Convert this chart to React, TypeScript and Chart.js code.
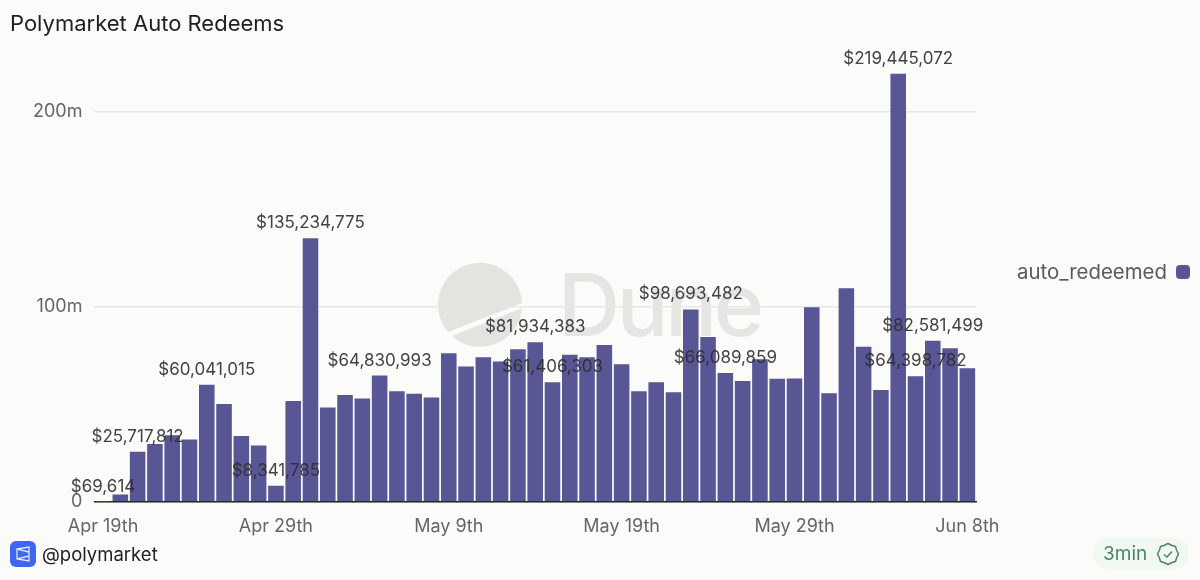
import React, { useEffect, useRef } from 'react';
import { Chart, registerables } from 'chart.js';

Chart.register(...registerables);

const TITLE = 'Polymarket Auto Redeems';
const SERIES_NAME = 'auto_redeemed';
const HANDLE = '@polymarket';
const FRESHNESS = '3min';

const dates = [
  'Apr 19th', 'Apr 20th', 'Apr 21st', 'Apr 22nd', 'Apr 23rd', 'Apr 24th', 'Apr 25th', 'Apr 26th', 'Apr 27th', 'Apr 28th',
  'Apr 29th', 'Apr 30th', 'May 1st', 'May 2nd', 'May 3rd', 'May 4th', 'May 5th', 'May 6th', 'May 7th', 'May 8th',
  'May 9th', 'May 10th', 'May 11th', 'May 12th', 'May 13th', 'May 14th', 'May 15th', 'May 16th', 'May 17th', 'May 18th',
  'May 19th', 'May 20th', 'May 21st', 'May 22nd', 'May 23rd', 'May 24th', 'May 25th', 'May 26th', 'May 27th', 'May 28th',
  'May 29th', 'May 30th', 'May 31st', 'Jun 1st', 'Jun 2nd', 'Jun 3rd', 'Jun 4th', 'Jun 5th', 'Jun 6th', 'Jun 7th',
  'Jun 8th',
];

const autoRedeemed = [
  69614, 3900000, 25717812, 29700000, 34200000, 32000000, 60041015, 50200000, 33800000, 28900000,
  8341785, 51800000, 135234775, 48400000, 54900000, 53000000, 64830993, 56700000, 55500000, 53500000,
  76200000, 69400000, 74200000, 72000000, 78300000, 81934383, 61406303, 75500000, 74200000, 80500000,
  70600000, 56700000, 61400000, 56200000, 98693482, 84600000, 66089859, 62000000, 73200000, 63200000,
  63300000, 99800000, 55700000, 109600000, 79600000, 57400000, 219445072, 64398782, 82581499, 78800000,
  68600000,
];

// bars that carry a value label in the original
const labelledBars = [0, 2, 6, 10, 12, 16, 25, 26, 34, 36, 46, 47, 48];

const yTicks = [0, 100000000, 200000000];
const yMax = 225000000;

const BAR_COLOR = '#585694';
const BG = '#fbfbf9';
const SANS = 'Inter, sans-serif';

const valueLabels = {
  id: 'valueLabels',
  afterDatasetsDraw(chart: Chart) {
    const { ctx } = chart;
    const meta = chart.getDatasetMeta(0);
    ctx.save();
    ctx.font = `17px ${SANS}`;
    ctx.fillStyle = 'rgba(45,45,45,0.9)';
    ctx.textAlign = 'center';
    ctx.textBaseline = 'alphabetic';
    labelledBars.forEach((i) => {
      const bar = meta.data[i];
      ctx.fillText('$' + autoRedeemed[i].toLocaleString('en-US'), bar.x, bar.y - 10);
    });
    ctx.restore();
  },
};

const App: React.FC = () => {
  const chartRef = useRef<HTMLCanvasElement>(null);

  useEffect(() => {
    if (!chartRef.current) return;
    const chart = new Chart(chartRef.current, {
      type: 'bar',
      data: {
        labels: dates,
        datasets: [
          {
            label: SERIES_NAME,
            data: autoRedeemed,
            backgroundColor: BAR_COLOR,
            categoryPercentage: 1,
            barPercentage: 0.9,
          },
        ],
      },
      options: {
        animation: false,
        responsive: false,
        layout: { padding: { top: 63, right: 224, left: 0, bottom: 0 } },
        plugins: {
          legend: { display: false },
          tooltip: { enabled: false },
        },
        scales: {
          x: {
            grid: { display: false },
            border: { color: '#1c1c1c', width: 1.5 },
            afterFit: (scale: any) => {
              scale.height = 78;
            },
            ticks: {
              autoSkip: false,
              maxRotation: 0,
              minRotation: 0,
              padding: 6,
              color: '#666666',
              font: { family: SANS, size: 18 },
              callback: (_v: any, i: number) => (i % 10 === 0 ? dates[i] : ''),
            },
          },
          y: {
            min: 0,
            max: yMax,
            afterFit: (scale: any) => {
              scale.width = 94.4;
            },
            afterBuildTicks: (scale: any) => {
              scale.ticks = yTicks.map((value) => ({ value }));
            },
            grid: { color: '#e7e7e4', lineWidth: 1.5, drawTicks: false },
            border: { display: false },
            ticks: {
              padding: 12,
              color: '#666666',
              font: { family: SANS, size: 18 },
              callback: (v: any) => (v === 0 ? '0' : `${v / 1000000}m`),
            },
          },
        },
      },
      plugins: [valueLabels],
    });
    return () => chart.destroy();
  }, []);

  return (
    <div style={{ position: 'absolute', left: 0, top: 0, width: 1200, height: 580, background: BG, overflow: 'hidden' }}>
      {/* watermark sits behind the transparent canvas */}
      <svg width={100} height={100} viewBox="0 0 100 100" style={{ position: 'absolute', left: 430, top: 255 }}>
        <path d="M18 77 A42 42 0 1 1 92 48 Z" fill="#e3e3e0" />
        <path d="M22 81 L92 53 A42 42 0 0 1 22 81 Z" fill="#e3e3e0" />
      </svg>
      <div
        style={{
          position: 'absolute',
          left: 558,
          top: 250,
          fontFamily: 'Inter, sans-serif',
          fontSize: 86,
          fontWeight: 500,
          letterSpacing: -3.3,
          lineHeight: '110px',
          color: '#e5e5e2',
        }}
      >
        Dune
      </div>

      <canvas ref={chartRef} width={1200} height={580} style={{ position: 'absolute', left: 0, top: 0 }} />

      <div style={{ position: 'absolute', left: 10, top: 9, fontFamily: 'Inter, sans-serif', fontSize: 22, lineHeight: '28px', color: '#1f1f1f' }}>
        {TITLE}
      </div>

      <div style={{ position: 'absolute', left: 1017, top: 258, fontFamily: 'Inter, sans-serif', fontSize: 20.4, lineHeight: '28px', color: '#5a5a5a' }}>
        {SERIES_NAME}
      </div>
      <div style={{ position: 'absolute', left: 1176, top: 265, width: 14, height: 14, borderRadius: 4, background: BAR_COLOR }} />

      <svg width={26} height={26} viewBox="0 0 26 26" style={{ position: 'absolute', left: 10, top: 541 }}>
        <rect width={26} height={26} rx={6} fill="#3f66f0" />
        <path d="M7 8 L19 6 L19 20 L7 18 Z M7 8 L19 11 L19 15 L7 18" fill="none" stroke="#dfe6ff" strokeWidth={1.3} />
      </svg>
      <div style={{ position: 'absolute', left: 42, top: 540, fontFamily: 'Inter, sans-serif', fontSize: 18.5, lineHeight: '28px', color: '#222222' }}>
        {HANDLE}
      </div>

      <div
        style={{
          position: 'absolute',
          left: 1093,
          top: 538,
          width: 96,
          height: 31,
          borderRadius: 15,
          background: '#f0f8f1',
        }}
      />
      <div style={{ position: 'absolute', left: 1103, top: 540, fontFamily: 'Inter, sans-serif', fontSize: 19, lineHeight: '28px', color: '#4a8566' }}>
        {FRESHNESS}
      </div>
      <svg width={24} height={24} viewBox="0 0 24 24" style={{ position: 'absolute', left: 1156, top: 542 }}>
        <path
          d="M12 1.5 L16 3.5 L19.5 4.5 L20.5 8 L22.5 12 L20.5 16 L19.5 19.5 L16 20.5 L12 22.5 L8 20.5 L4.5 19.5 L3.5 16 L1.5 12 L3.5 8 L4.5 4.5 L8 3.5 Z"
          fill="none"
          stroke="#4a8566"
          strokeWidth={1.5}
          strokeLinejoin="round"
        />
        <path d="M8 12.5 L11 15 L16 9.5" fill="none" stroke="#4a8566" strokeWidth={1.5} />
      </svg>
    </div>
  );
};

export default App;
